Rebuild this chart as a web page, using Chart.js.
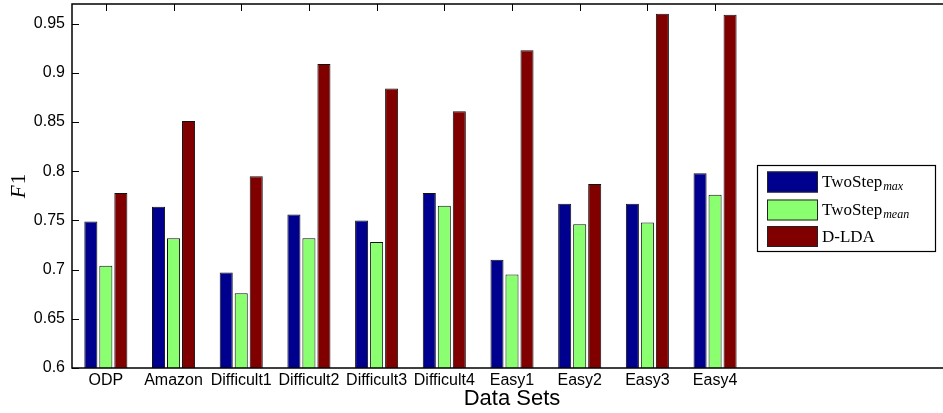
<!DOCTYPE html>
<html>
<head>
<meta charset="utf-8">
<script src="https://cdn.jsdelivr.net/npm/chart.js@4"></script>
<style>
  html, body { margin: 0; padding: 0; background: #fff; overflow: hidden; }
  #wrap { width: 960px; height: 413px; }
</style>
</head>
<body>
<div id="wrap"><canvas id="grafico" width="960" height="413"></canvas></div>
<script>
// Dados
const categorias = ['ODP', 'Amazon', 'Difficult1', 'Difficult2', 'Difficult3', 'Difficult4', 'Easy1', 'Easy2', 'Easy3', 'Easy4'];
const twoStepMax = [0.749, 0.764, 0.697, 0.756, 0.750, 0.778, 0.710, 0.767, 0.767, 0.798];
const twoStepMean = [0.704, 0.732, 0.676, 0.732, 0.728, 0.765, 0.695, 0.746, 0.748, 0.776];
const dLda = [0.778, 0.851, 0.795, 0.909, 0.884, 0.861, 0.923, 0.787, 0.960, 0.959];
const yTicks = [0.6, 0.65, 0.7, 0.75, 0.8, 0.85, 0.9, 0.95];
// espaço vazio à direita (o eixo do MATLAB continua além das categorias)
const rotulos = categorias.concat(['', '', '']);

const cores = ['rgb(0,0,143)', 'rgb(138,255,112)', 'rgb(128,0,0)'];
const legenda = [
    { base: 'TwoStep', sub: 'max' },
    { base: 'TwoStep', sub: 'mean' },
    { base: 'D-LDA', sub: '' }
];

// Eixos estilo MATLAB, ticks para dentro, legenda e rótulo F1
const eixosPlugin = {
    id: 'eixos',
    beforeDatasetsDraw(chart) {
        const { ctx, chartArea: a, scales: { x, y } } = chart;
        ctx.save();
        ctx.strokeStyle = '#000';
        ctx.lineWidth = 1;
        ctx.beginPath();
        y.ticks.forEach((t, i) => {
            const py = Math.round(y.getPixelForTick(i)) + 0.5;
            ctx.moveTo(a.left, py);
            ctx.lineTo(a.left + 7, py);
        });
        categorias.forEach((c, i) => {
            const px = Math.round(x.getPixelForValue(i)) + 0.5;
            ctx.moveTo(px, a.top);
            ctx.lineTo(px, a.top + 7);
            ctx.moveTo(px, a.bottom);
            ctx.lineTo(px, a.bottom - 7);
        });
        ctx.stroke();
        ctx.restore();
    },
    afterDraw(chart) {
        const { ctx, chartArea: a } = chart;
        ctx.save();
        ctx.strokeStyle = '#000';
        ctx.lineWidth = 1.5;
        ctx.beginPath();
        ctx.moveTo(a.right, a.top);
        ctx.lineTo(a.left, a.top);
        ctx.lineTo(a.left, a.bottom);
        ctx.lineTo(a.right, a.bottom);
        ctx.stroke();

        // rótulo do eixo y: F itálico + 1
        ctx.translate(19, (a.top + a.bottom) / 2);
        ctx.rotate(-Math.PI / 2);
        ctx.fillStyle = '#000';
        ctx.textBaseline = 'middle';
        ctx.font = 'italic 21px "Liberation Serif"';
        const wF = ctx.measureText('F').width;
        ctx.font = '21px "Liberation Serif"';
        const w1 = ctx.measureText('1').width;
        let lx = -(wF + w1 + 1) / 2;
        ctx.font = 'italic 21px "Liberation Serif"';
        ctx.textAlign = 'left';
        ctx.fillText('F', lx, 0);
        ctx.font = '21px "Liberation Serif"';
        ctx.fillText('1', lx + wF + 1, 0);
        ctx.restore();

        // legenda
        ctx.save();
        const bx = 757, by = 165, bw = 178, bh = 86;
        ctx.fillStyle = '#fff';
        ctx.fillRect(bx, by, bw, bh);
        ctx.strokeStyle = '#000';
        ctx.lineWidth = 1.2;
        ctx.strokeRect(bx + 0.5, by + 0.5, bw, bh);
        const linhas = [182, 210, 236.5];
        legenda.forEach((item, i) => {
            const cy = linhas[i];
            ctx.fillStyle = cores[i];
            ctx.fillRect(767, cy - 10.5, 51, 21);
            ctx.strokeStyle = '#222';
            ctx.lineWidth = 1;
            ctx.strokeRect(767.5, cy - 10, 50, 20);
            ctx.fillStyle = '#000';
            ctx.textBaseline = 'alphabetic';
            ctx.textAlign = 'left';
            ctx.font = '17px "Liberation Serif"';
            ctx.fillText(item.base, 822, cy + 5);
            if (item.sub) {
                const w = ctx.measureText(item.base).width;
                ctx.font = 'italic 12px "Liberation Serif"';
                ctx.fillText(item.sub, 822 + w + 1, cy + 8);
            }
        });
        ctx.restore();
    }
};

const ctxGrafico = document.getElementById('grafico').getContext('2d');
new Chart(ctxGrafico, {
    type: 'bar',
    data: {
        labels: rotulos,
        datasets: [
            { label: 'TwoStep_max', data: twoStepMax, backgroundColor: cores[0] },
            { label: 'TwoStep_mean', data: twoStepMean, backgroundColor: cores[1] },
            { label: 'D-LDA', data: dLda, backgroundColor: cores[2] }
        ]
    },
    options: {
        responsive: false,
        animation: false,
        layout: { padding: { top: 4, right: 8, left: 0, bottom: 0 } },
        datasets: {
            bar: {
                categoryPercentage: 0.665,
                barPercentage: 0.87,
                borderColor: '#111',
                borderWidth: 1,
                borderSkipped: 'bottom'
            }
        },
        plugins: {
            legend: { display: false },
            tooltip: { enabled: false }
        },
        scales: {
            x: {
                grid: { display: false, drawTicks: false },
                border: { display: false },
                ticks: {
                    color: '#000',
                    font: { family: '"Liberation Sans", Arial', size: 16 },
                    padding: 3,
                    maxRotation: 0,
                    autoSkip: false
                },
                title: {
                    display: true,
                    text: 'Data Sets',
                    color: '#000',
                    font: { family: '"Liberation Sans", Arial', size: 22 },
                    padding: { top: 0, bottom: 1 }
                },
                afterFit(scale) {
                    scale.height = 45;
                    scale.paddingLeft = 0;
                    scale.paddingRight = 0;
                }
            },
            y: {
                min: 0.6,
                max: 0.97,
                grid: { display: false, drawTicks: false },
                border: { display: false },
                afterBuildTicks(scale) {
                    scale.ticks = yTicks.map(v => ({ value: v }));
                },
                ticks: {
                    color: '#000',
                    font: { family: '"Liberation Sans", Arial', size: 16 },
                    padding: 7,
                    callback: function (v) { return String(parseFloat(v.toFixed(2))); }
                },
                afterFit(scale) {
                    scale.width = 72;
                    scale.paddingTop = 0;
                    scale.paddingBottom = 0;
                }
            }
        }
    },
    plugins: [eixosPlugin]
});
</script>
</body>
</html>
